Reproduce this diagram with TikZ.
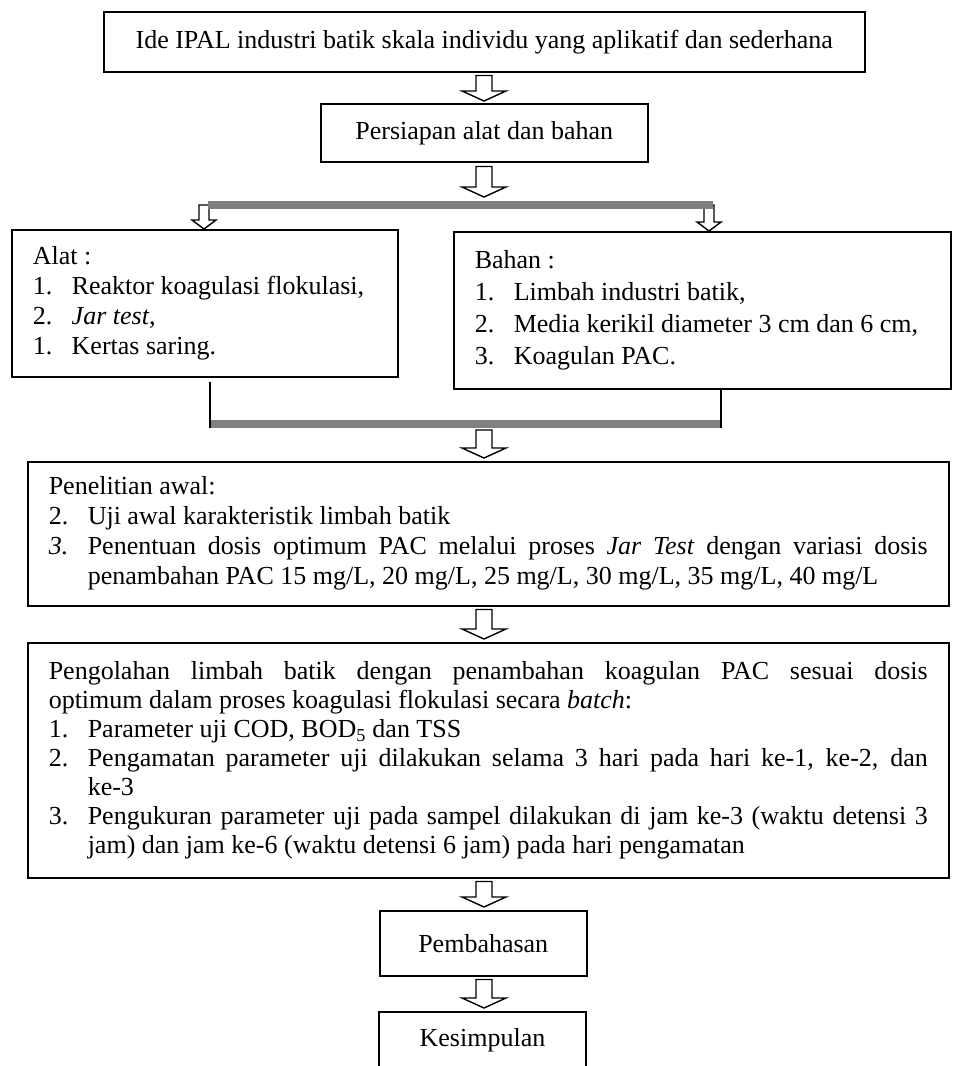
\documentclass[tikz,border=0pt]{standalone}
\usepackage{fontspec}
\setmainfont{Liberation Serif}
\usetikzlibrary{calc}
\definecolor{bargray}{RGB}{128,128,128}
\newcommand\itm[2]{\par\noindent\hangindent=39pt\hangafter=1\makebox[39pt][l]{#1}#2\par}
\newcommand\plainspaces{\spaceskip=0pt\xspaceskip=0pt\relax}
\newcommand\bigarrow[2]{\draw[hollow] let \p1=(#1), \p2=(#2) in
  (\x1-8pt,\y1) -- (\x1-8pt,\y2+10pt) -- (\x1-22pt,\y2+10pt) -- (\x1,\y2)
  -- (\x1+22pt,\y2+10pt) -- (\x1+8pt,\y2+10pt) -- (\x1+8pt,\y1) -- cycle;}
\newcommand\smallarrow[2]{\draw[hollow] let \p1=(#1), \p2=(#2) in
  (\x1-5pt,\y1) -- (\x1-5pt,\y2+9pt) -- (\x1-12pt,\y2+9pt) -- (\x1,\y2)
  -- (\x1+12pt,\y2+9pt) -- (\x1+5pt,\y2+9pt) -- (\x1+5pt,\y1) -- cycle;}
\begin{document}
\begin{tikzpicture}[x=1pt,y=-1pt,
  box/.style={draw=black, line width=1.5pt, rectangle, inner xsep=21pt, inner ysep=4pt,
    anchor=north west, font=\fontsize{26pt}{30pt}\selectfont},
  jbox/.style={box, align=justify,
    execute at begin node={\tolerance=10000\hyphenpenalty=10000\parindent=0pt}},
  lbox/.style={box, align=justify,
    execute at begin node={\hyphenpenalty=10000\parindent=0pt}},
  hollow/.style={draw=black, line width=1.4pt, fill=white, line join=miter},
  graybar/.style={draw=bargray, line width=8pt},
  link/.style={draw=black, line width=1.5pt}]
\fill[white] (0,0) rectangle (955,1066);
\useasboundingbox (0,0) rectangle (955,1066);
\clip (0,0) rectangle (955,1066);
\coordinate (ax) at (484,0);
% boxes
\node[box, minimum width=761pt, minimum height=60pt] (idea) at (103,11)
  {Ide IPAL industri batik skala individu yang aplikatif dan sederhana};
\node[box, minimum width=327pt, minimum height=58pt] (prep) at (320,103)
  {Persiapan alat dan bahan};
\node[lbox, text width=344pt, minimum height=147pt] (alat) at (11,229)
  {\raggedright\plainspaces\noindent Alat :\itm{1.}{Reaktor koagulasi flokulasi,}\itm{2.}{\textit{Jar test},}\itm{1.}{Kertas saring.}};
\node[lbox, text width=455pt, minimum height=157pt, font=\fontsize{26pt}{32pt}\selectfont] (bahan) at (453,231)
  {\raggedright\plainspaces\noindent Bahan :\itm{1.}{Limbah industri batik,}\itm{2.}{Media kerikil diameter 3 cm dan 6 cm,}\itm{3.}{Koagulan PAC.}};
\node[jbox, text width=879pt, minimum height=144pt] (penel) at (27,461)
  {\noindent Penelitian awal:\itm{2.}{Uji awal karakteristik limbah batik}\itm{\textit{3.}}{Penentuan dosis optimum PAC melalui proses \textit{Jar Test} dengan variasi dosis\linebreak penambahan PAC 15 mg/L, 20 mg/L, 25 mg/L, 30 mg/L, 35 mg/L, 40 mg/L}};
\node[jbox, text width=879pt, minimum height=235pt, font=\fontsize{26pt}{29pt}\selectfont] (olah) at (27,642)
  {\noindent Pengolahan limbah batik dengan penambahan koagulan PAC sesuai dosis\linebreak optimum dalam proses koagulasi flokulasi secara \textit{batch}:\itm{1.}{Parameter uji COD, BOD\textsubscript{5} dan TSS}\itm{2.}{Pengamatan parameter uji dilakukan selama 3 hari pada hari ke-1, ke-2, dan\linebreak ke-3}\itm{3.}{Pengukuran parameter uji pada sampel dilakukan di jam ke-3 (waktu detensi 3\linebreak jam) dan jam ke-6 (waktu detensi 6 jam) pada hari pengamatan}};
\node[box, minimum width=207pt, minimum height=65pt] (pemb) at (379,910) {Pembahasan};
\node[box, anchor=north, minimum width=207pt, text height=18pt, text depth=60pt, inner ysep=17pt] (kes) at (482.5,1011) {Kesimpulan};
% bars and coordinates
\coordinate (bL) at (208,205);
\coordinate (bR) at (713,205);
\coordinate (sL) at (204,205);
\coordinate (sR) at (709,205);
\coordinate (vL) at (210,424);
\coordinate (vR) at (721,424);
% arrows
\bigarrow{$(idea.south -| ax)+(0,3)$}{$(prep.north -| ax)+(0,-2)$}
\bigarrow{$(prep.south -| ax)+(0,4)$}{$(bL -| ax)+(0,-8)$}
\smallarrow{sL}{alat.north -| sL}
\smallarrow{sR}{bahan.north -| sR}
\draw[graybar] (bL) -- (bR);
\draw[graybar] (vL) -- (vR);
\draw[link] ($(alat.south -| vL)+(0,4)$) -- ($(vL)+(0,4)$);
\draw[link] (bahan.south -| vR) -- ($(vR)+(0,4)$);
\bigarrow{$(vL -| ax)+(0,6)$}{$(penel.north -| ax)+(0,-3)$}
\bigarrow{$(penel.south -| ax)+(0,3)$}{$(olah.north -| ax)+(0,-3)$}
\bigarrow{$(olah.south -| ax)+(0,3)$}{$(pemb.north -| ax)+(0,-3)$}
\bigarrow{$(pemb.south -| ax)+(0,3)$}{$(kes.north -| ax)+(0,-3)$}
\end{tikzpicture}
\end{document}
